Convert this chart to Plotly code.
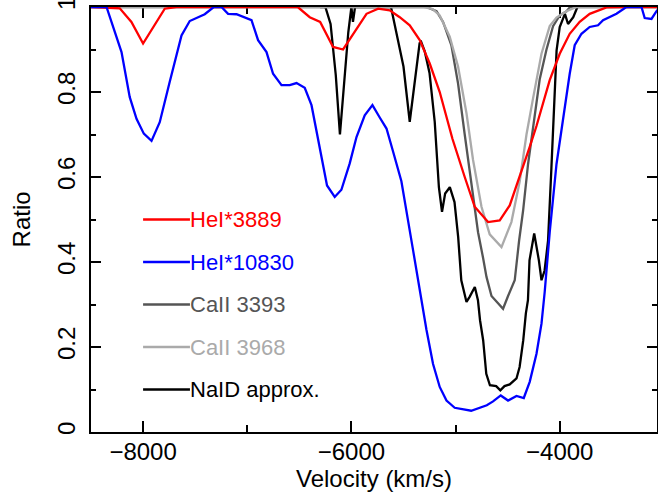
import plotly.graph_objects as go

# ---------------- data (velocity km/s, ratio) ----------------
he3889_v = [-8500, -8224, -8112, -8000, -7792, -7680, -6515, -6400, -6300, -6176, -6080,
            -5984, -5855, -5743, -5632, -5536, -5440, -5344, -5248, -5152, -5087, -5030,
            -4912, -4816, -4688, -4576, -4480, -4384, -4288, -4223, -4096, -4000, -3904,
            -3808, -3712, -3551, -3400, -3030]
he3889_r = [1.0, 0.997, 0.965, 0.914, 0.996, 1.0, 1.0, 0.976, 0.965, 0.906, 0.900,
            0.937, 0.984, 0.996, 0.992, 0.976, 0.957, 0.922, 0.867, 0.800, 0.740, 0.690,
            0.600, 0.530, 0.494, 0.498, 0.533, 0.600, 0.671, 0.720, 0.828, 0.890, 0.937,
            0.965, 0.984, 0.999, 1.0, 1.0]

he10830_v = [-8500, -8416, -8351, -8207, -8128, -8063, -7993, -7919, -7840, -7744, -7631,
             -7552, -7408, -7321, -7247, -7184, -7103, -6959, -6896, -6815, -6752, -6671,
             -6592, -6527, -6448, -6383, -6304, -6234, -6160, -6096, -6016, -5951, -5872,
             -5798, -5728, -5663, -5600, -5520, -5408, -5312, -5279, -5216, -5152, -5087,
             -5008, -4850, -4700, -4640, -4566, -4496, -4415, -4345, -4288, -4223, -4175,
             -4144, -4096, -4031, -3968, -3904, -3856, -3791, -3712, -3632, -3584, -3455,
             -3360, -3215, -3184, -3119, -3071, -3030]
he10830_r = [1.0, 1.0, 1.0, 0.894, 0.788, 0.737, 0.702, 0.685, 0.729, 0.824, 0.933,
             0.967, 0.983, 1.0, 1.0, 0.984, 0.983, 0.969, 0.922, 0.894, 0.843, 0.816,
             0.816, 0.821, 0.810, 0.769, 0.671, 0.580, 0.553, 0.570, 0.632, 0.694, 0.745,
             0.769, 0.740, 0.714, 0.660, 0.590, 0.428, 0.286, 0.240, 0.160, 0.106, 0.074,
             0.057, 0.050, 0.063, 0.072, 0.086, 0.074, 0.085, 0.080, 0.118, 0.184, 0.255,
             0.330, 0.470, 0.630, 0.740, 0.843, 0.910, 0.937, 0.953, 0.957, 0.969, 0.984,
             1.0, 1.0, 0.974, 0.972, 0.990, 1.0]

ca3393_v = [-8500, -5280, -5183, -5120, -5040, -4976, -4912, -4847, -4784, -4736, -4703,
            -4655, -4544, -4496, -4432, -4390, -4352, -4304, -4256, -4192, -4127, -4064,
            -4000, -3935, -3900, -3030]
ca3393_r = [1.0, 1.0, 0.990, 0.965, 0.910, 0.820, 0.700, 0.580, 0.470, 0.410, 0.365,
            0.320, 0.290, 0.320, 0.357, 0.450, 0.520, 0.630, 0.720, 0.830, 0.900, 0.955,
            0.980, 0.990, 1.0, 1.0]

ca3968_v = [-8500, -5312, -5220, -5152, -5056, -4976, -4895, -4832, -4751, -4672, -4559,
            -4464, -4384, -4319, -4256, -4175, -4096, -4031, -3935, -3840, -3030]
ca3968_r = [1.0, 1.0, 0.995, 0.980, 0.930, 0.860, 0.750, 0.640, 0.530, 0.465, 0.435,
            0.494, 0.590, 0.700, 0.785, 0.890, 0.955, 0.975, 0.990, 1.0, 1.0]

naid_v = [-6300, -6250, -6200, -6150, -6110, -6070, -6030, -6000, -5985, -5965, -5620,
          -5560, -5500, -5440, -5390, -5345, -5330, -5295, -5250, -5200, -5160, -5130,
          -5100, -5055, -5010, -4975, -4945, -4895, -4865, -4815, -4785, -4765, -4735,
          -4705, -4670, -4610, -4570, -4530, -4480, -4415, -4385, -4350, -4325, -4305,
          -4290, -4245, -4200, -4175, -4145, -4112, -4080, -4060, -4030, -4000, -3950,
          -3920, -3870, -3830]
naid_r = [1.0, 1.0, 0.960, 0.840, 0.700, 0.820, 0.940, 1.0, 0.965, 1.0, 1.0,
          0.930, 0.860, 0.730, 0.830, 0.915, 0.918, 0.895, 0.845, 0.730, 0.576, 0.518,
          0.561, 0.576, 0.541, 0.459, 0.357, 0.306, 0.318, 0.341, 0.310, 0.263, 0.216,
          0.137, 0.110, 0.108, 0.098, 0.108, 0.112, 0.126, 0.153, 0.216, 0.279, 0.310,
          0.404, 0.467, 0.404, 0.357, 0.380, 0.450, 0.620, 0.750, 0.898, 0.953, 0.984,
          0.960, 0.976, 1.0]

series_names = ["HeI*3889", "HeI*10830", "CaII 3393", "CaII 3968", "NaID approx."]
series_colors = ["#ff0000", "#0000ff", "#555555", "#aaaaaa", "#000000"]
series_x = [he3889_v, he10830_v, ca3393_v, ca3968_v, naid_v]
series_y = [he3889_r, he10830_r, ca3393_r, ca3968_r, naid_r]
draw_order = [4, 2, 3, 0, 1]

legend_y = [0.5, 0.4, 0.3, 0.2, 0.1]
legend_x0, legend_x1 = -8000, -7550

x_ticks = [-8000, -6000, -4000]
x_minor = [-7000, -5000, -3000]
y_ticks = [0, 0.2, 0.4, 0.6, 0.8, 1]
y_ticktext = ["0", "0.2", "0.4", "0.6", "0.8", "1"]
y_minor = [0.1, 0.3, 0.5, 0.7, 0.9]

FONT = "Liberation Sans, Arial, sans-serif"
LW = 2.3

fig = go.Figure()
for i in draw_order:
    fig.add_trace(go.Scatter(x=series_x[i], y=series_y[i], mode="lines",
                             line=dict(color=series_colors[i], width=LW),
                             name=series_names[i], showlegend=False, hoverinfo="skip"))

for name, col, ly in zip(series_names, series_colors, legend_y):
    fig.add_shape(type="line", xref="x", yref="y", x0=legend_x0, x1=legend_x1,
                  y0=ly, y1=ly, line=dict(color=col, width=LW))
    fig.add_annotation(x=legend_x1, y=ly, xref="x", yref="y", text=name,
                       showarrow=False, xanchor="left", yanchor="middle",
                       font=dict(family=FONT, size=22, color=col), borderpad=0, xshift=-1)

# axis titles as annotations for exact placement
fig.add_annotation(text="Velocity (km/s)", xref="paper", yref="paper", x=0.5, y=-0.109,
                   showarrow=False, xanchor="center", yanchor="middle",
                   font=dict(family=FONT, size=24, color="black"))
fig.add_annotation(text="Ratio", xref="paper", yref="paper", x=-0.122, y=0.5,
                   showarrow=False, xanchor="center", yanchor="middle", textangle=-90,
                   font=dict(family=FONT, size=24, color="black"))

axis_common = dict(showgrid=False, zeroline=False, showline=True, linecolor="black",
                   linewidth=2, mirror="ticks", ticks="inside", tickcolor="black",
                   tickwidth=2, tickfont=dict(family=FONT, size=24, color="black"),
                   layer="below traces", automargin=False, ticklabeloverflow="allow")

fig.update_xaxes(range=[-8500, -3066], tickmode="array", tickvals=x_ticks, ticklen=11,
                 minor=dict(tickmode="array", tickvals=x_minor, ticks="inside", ticklen=7,
                            tickwidth=2, tickcolor="black"),
                 ticklabelstandoff=-3, **axis_common)
fig.update_yaxes(range=[0, 1], tickmode="array", tickvals=y_ticks, ticktext=y_ticktext,
                 ticklen=10, tickangle=-90,
                 minor=dict(tickmode="array", tickvals=y_minor, ticks="inside", ticklen=5,
                            tickwidth=2, tickcolor="black"),
                 ticklabelstandoff=4, **axis_common)

fig.update_layout(width=658, height=497, margin=dict(l=91, r=1, t=7, b=65, autoexpand=False),
                  paper_bgcolor="white", plot_bgcolor="white", showlegend=False)

fig.write_html("out.html", config={"displayModeBar": False, "staticPlot": True},
               post_script="document.body.style.margin='0px';document.body.style.overflow='hidden';")
